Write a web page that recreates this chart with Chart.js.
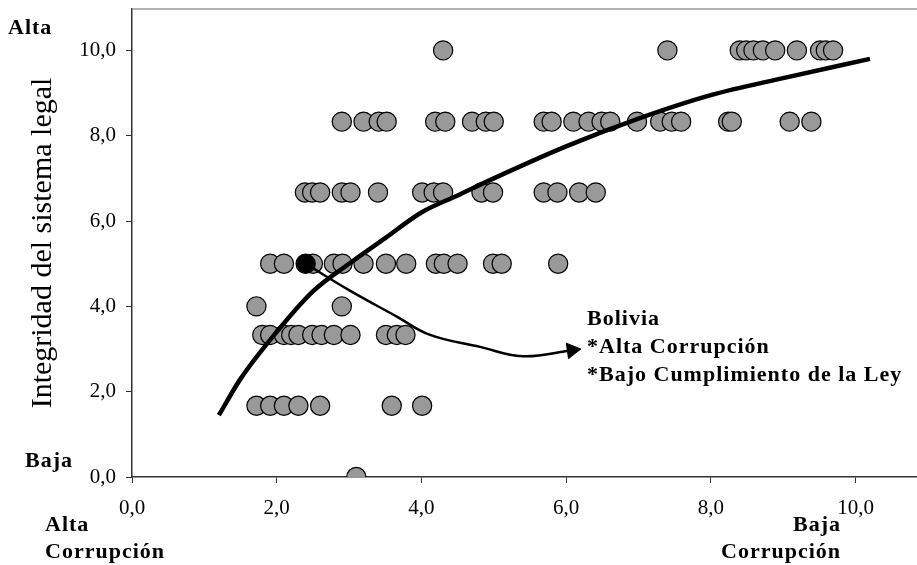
<!DOCTYPE html>
<html lang="es">
<head>
<meta charset="utf-8">
<title>Corrupción e integridad del sistema legal</title>
<script src="https://cdn.jsdelivr.net/npm/chart.js@4.4.0/dist/chart.umd.min.js"></script>
<style>
  html,body{margin:0;padding:0;background:#fff;overflow:hidden;}
  #grafico{display:block;}
</style>
</head>
<body>
<canvas id="grafico" width="917" height="565"></canvas>
<script>
// valores: x = indice de corrupcion, y = integridad del sistema legal
const fila_0=[3.10];
const fila_1_67=[1.72,1.91,2.10,2.30,2.60,3.59,4.01];
const fila_3_33=[1.80,1.91,2.10,2.20,2.30,2.49,2.62,2.79,3.02,3.51,3.66,3.78];
const fila_4=[1.72,2.90];
const fila_5=[1.91,2.10,2.50,2.79,2.91,3.20,3.51,3.79,4.20,4.31,4.50,4.99,5.11,5.89];
const fila_6_67=[2.39,2.49,2.60,2.90,3.02,3.40,4.01,4.17,4.30,4.83,4.99,5.69,5.88,6.18,6.41];
const fila_8_33=[2.90,3.20,3.41,3.52,4.19,4.33,4.70,4.89,5.00,5.69,5.80,6.10,6.31,6.49,6.61,6.98,7.30,7.46,7.59,8.24,8.29,9.09,9.39];
const fila_10=[4.30,7.40,8.40,8.49,8.59,8.72,8.89,9.19,9.51,9.59,9.69];
const niveles=[0,1.67,3.33,4,5,6.67,8.33,10];
const filas=[fila_0,fila_1_67,fila_3_33,fila_4,fila_5,fila_6_67,fila_8_33,fila_10];

const bolivia_x=2.40;
const bolivia_y=5.00;

// curva de tendencia (leida punto por punto)
const tendencia_x=[1.2,1.5,2.0,2.5,3.0,3.5,4.0,4.5,5.0,6.0,7.0,8.0,9.0,10.2];
const tendencia_y=[1.45,2.3,3.4,4.35,5.0,5.6,6.2,6.6,7.0,7.75,8.4,8.95,9.35,9.8];

// flecha desde Bolivia hasta el texto
const flecha_x=[2.40,3.0,3.66,4.12,4.81,5.40,6.08];
const flecha_y=[5.00,4.38,3.76,3.33,3.05,2.83,2.97];

const etiquetas_ticks=["0,0","2,0","4,0","6,0","8,0","10,0"];

let puntos=[];
filas.forEach((fila,i)=>{
    fila.forEach(x=>{
        puntos.push({x:x,y:niveles[i]});
    });
});
let tendencia=tendencia_x.map((x,i)=>({x:x,y:tendencia_y[i]}));
let flecha=flecha_x.map((x,i)=>({x:x,y:flecha_y[i]}));

const fuente='"Liberation Serif","Times New Roman",Times,serif';

function etiqueta(valor){
    let idx=Math.round(valor/2);
    return etiquetas_ticks[idx] ?? "";
}

const textos={
    id:"textos",
    beforeDatasetsDraw(chart){
        const {ctx,chartArea}=chart;
        ctx.save();
        ctx.strokeStyle="#9a9a9a";
        ctx.lineWidth=1.3;
        ctx.beginPath();
        ctx.moveTo(chartArea.left,chartArea.top);
        ctx.lineTo(chartArea.right,chartArea.top);
        ctx.stroke();
        ctx.restore();
    },
    afterDraw(chart){
        const ctx=chart.ctx;
        ctx.save();
        ctx.fillStyle="#000";
        ctx.font=`bold 22px ${fuente}`;
        ctx.letterSpacing="1px";
        ctx.textBaseline="alphabetic";
        ctx.textAlign="left";
        ctx.fillText("Alta",8,34);
        ctx.fillText("Baja",25,467);
        ctx.fillText("Alta",45,531);
        ctx.fillText("Corrupción",45,558);
        ctx.fillText("Bolivia",587,325);
        ctx.fillText("*Alta Corrupción",587,353);
        ctx.fillText("*Bajo Cumplimiento de la Ley",587,381);
        ctx.textAlign="right";
        ctx.fillText("Baja",841,531);
        ctx.fillText("Corrupción",841,558);
        ctx.restore();
    }
};

const ctx=document.getElementById("grafico");
const myChart=new Chart(ctx,{
    type:"scatter",
    data:{
        datasets:[{
            label:"Tendencia",
            data:tendencia,
            showLine:true,
            borderColor:"#000",
            borderWidth:4.5,
            pointRadius:0,
            cubicInterpolationMode:"monotone"
        },{
            label:"Flecha",
            data:flecha,
            showLine:true,
            borderColor:"#000",
            borderWidth:2.5,
            tension:0.4,
            pointStyle:"triangle",
            pointRotation:82,
            pointBackgroundColor:"#000",
            pointBorderColor:"#000",
            pointBorderWidth:1,
            pointRadius:c=>c.dataIndex===flecha.length-1?9:0
        },{
            label:"Bolivia",
            data:[{x:bolivia_x,y:bolivia_y}],
            pointRadius:9.6,
            pointBackgroundColor:"#000",
            pointBorderColor:"#000",
            pointBorderWidth:1.2
        },{
            label:"Paises",
            data:puntos,
            pointRadius:9.6,
            pointBackgroundColor:"#999999",
            pointBorderColor:"#000",
            pointBorderWidth:1.2
        }]
    },
    options:{
        responsive:false,
        animation:false,
        layout:{autoPadding:false,padding:{top:9,right:0,bottom:0,left:0}},
        plugins:{legend:{display:false},tooltip:{enabled:false}},
        scales:{
            x:{
                type:"linear",
                min:0,
                max:10.85,
                afterFit:s=>{s.height=88;s.paddingLeft=0;s.paddingRight=0;},
                ticks:{
                    stepSize:2,
                    includeBounds:false,
                    padding:13,
                    color:"#000",
                    font:{family:fuente,size:21},
                    callback:v=>etiqueta(v)
                },
                grid:{drawOnChartArea:false,drawTicks:true,tickLength:6,tickColor:"#333"},
                border:{color:"#333",width:1.5}
            },
            y:{
                type:"linear",
                min:0,
                max:10.97,
                afterFit:s=>{s.width=132;s.paddingTop=0;s.paddingBottom=0;},
                ticks:{
                    stepSize:2,
                    includeBounds:false,
                    padding:10,
                    color:"#000",
                    font:{family:fuente,size:21},
                    callback:v=>etiqueta(v)
                },
                title:{
                    display:true,
                    text:"Integridad del sistema legal",
                    color:"#000",
                    font:{family:fuente,size:30},
                    padding:{top:25,bottom:0}
                },
                grid:{drawOnChartArea:false,drawTicks:true,tickLength:6,tickColor:"#333"},
                border:{color:"#333",width:1.5}
            }
        }
    },
    plugins:[textos]
});
</script>
</body>
</html>
